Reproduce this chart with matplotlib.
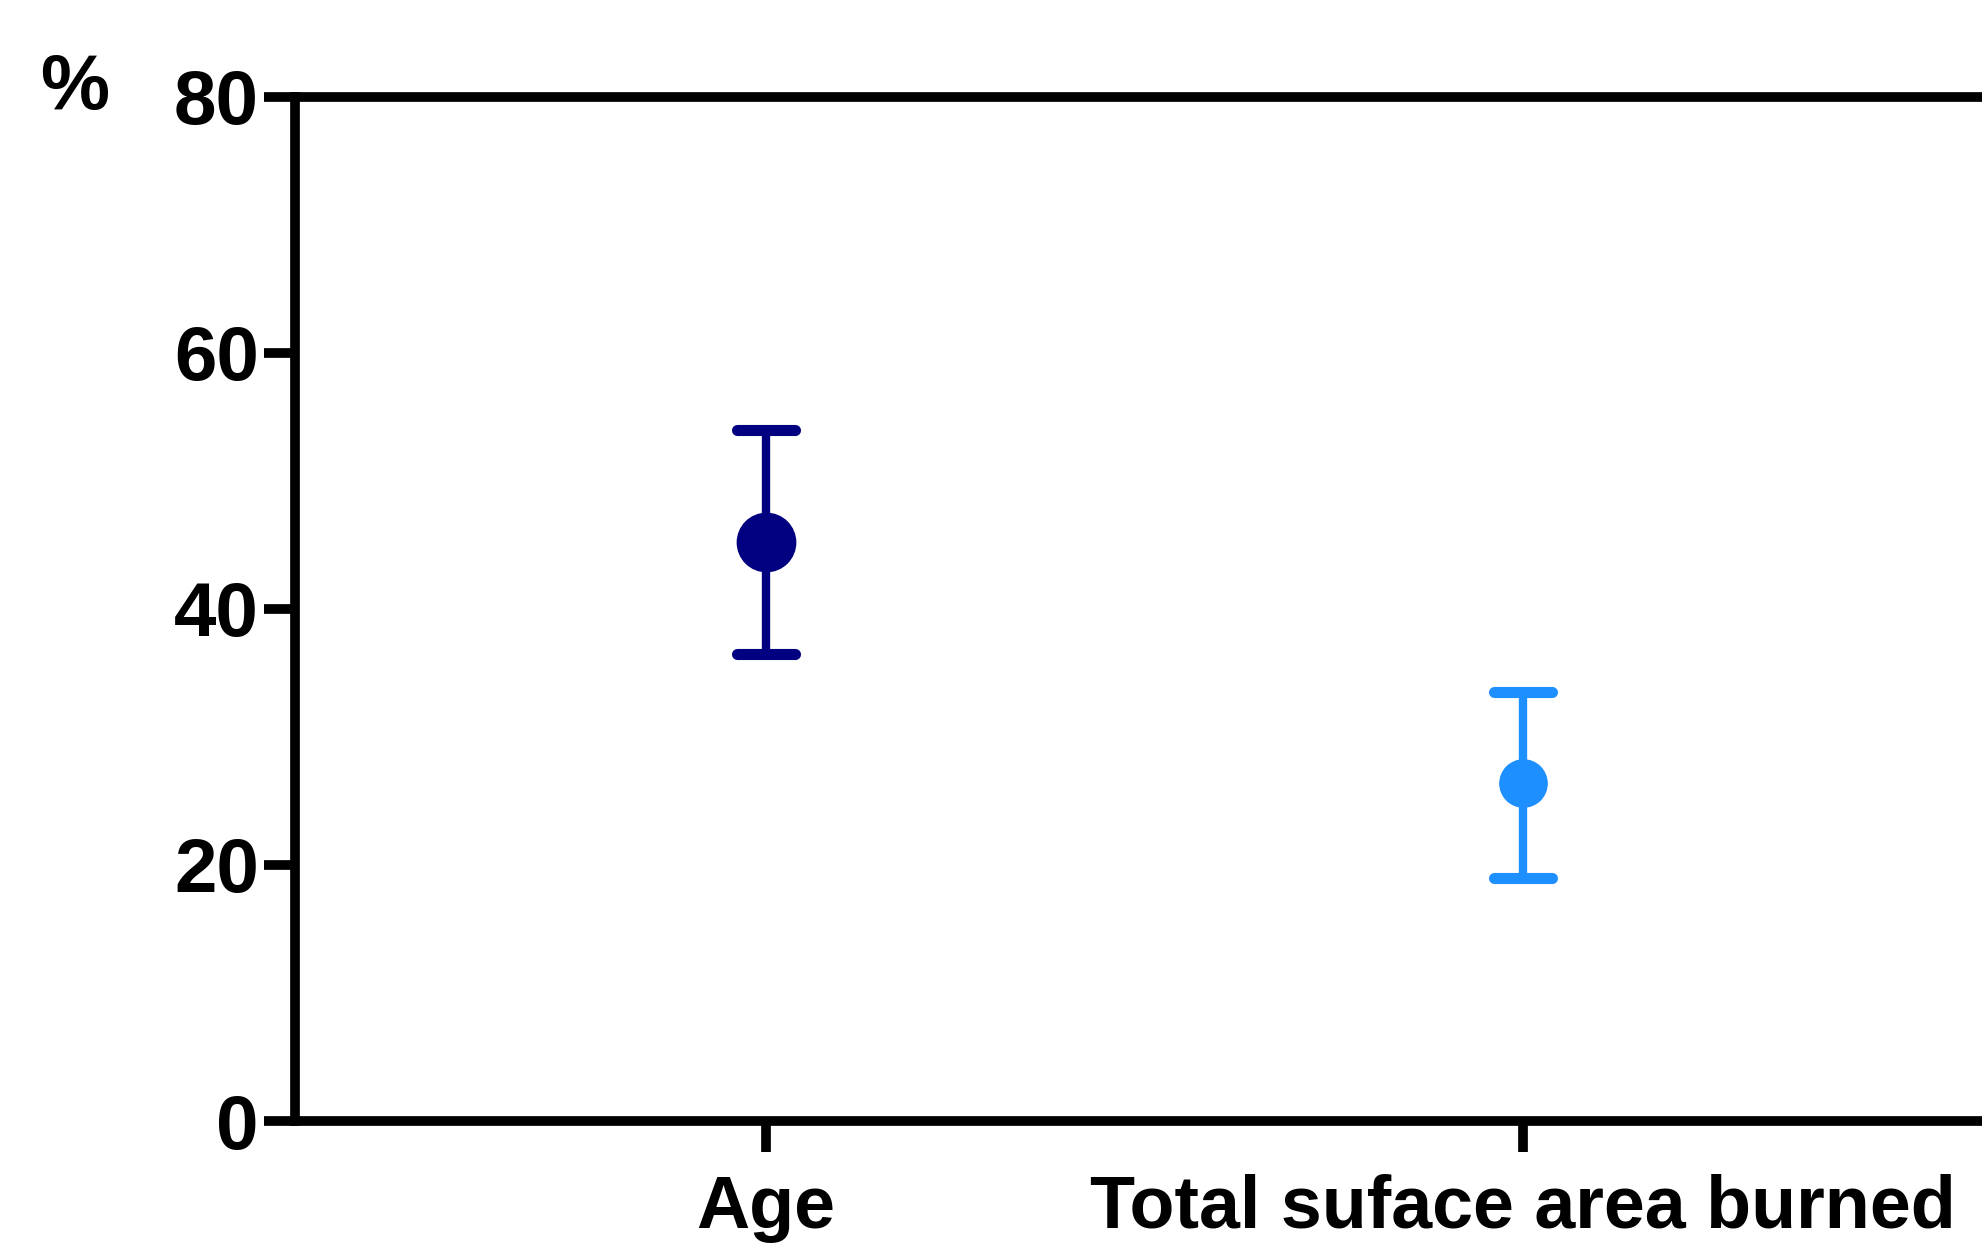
import matplotlib
matplotlib.use("Agg")
import matplotlib.pyplot as plt
from matplotlib.markers import MarkerStyle

categories = ["Age", "Total suface area burned"]
means = [45.2, 26.4]
upper = [54.0, 33.5]
lower = [36.5, 19.0]
colors = ["#000080", "#1E8FFF"]
marker_sizes = [42, 34]
yticks = [0, 20, 40, 60, 80]

W, H = 1982, 1245
fig = plt.figure(figsize=(W / 100, H / 100), dpi=100)

left_px, right_px = 295, 2000
top_px, bottom_px = 96.7, 1121
ax = fig.add_axes([left_px / W, (H - bottom_px) / H,
                   (right_px - left_px) / W, (bottom_px - top_px) / H])

font = dict(family=["Liberation Sans", "DejaVu Sans"], weight="bold")

x = list(range(len(categories)))
for i in x:
    cont = ax.errorbar([i], [means[i]],
                       yerr=[[means[i] - lower[i]], [upper[i] - means[i]]],
                       fmt="o", color=colors[i], ms=marker_sizes[i],
                       elinewidth=6, capsize=21, capthick=8, zorder=3)
    _, caps, bars = cont.lines
    for c in caps:
        c.set_marker(MarkerStyle("_", capstyle="round"))
    for b in bars:
        b.set_capstyle("round")

# x positions: 0 at 766px, 1 at 1523px
px0, px1 = 766, 1523
unit = px1 - px0
ax.set_xlim((left_px - px0) / unit, (right_px - px0) / unit)
ax.set_ylim(0, 80)

ax.set_xticks(x)
ax.set_xticklabels(categories, fontsize=53, **font)
ax.set_yticks(yticks)
ax.set_yticklabels([str(v) for v in yticks], fontsize=55, **font)

for s in ["left", "top", "bottom", "right"]:
    ax.spines[s].set_linewidth(7)
    ax.spines[s].set_color("black")
ax.tick_params(axis="both", length=22, width=7, color="black")
ax.tick_params(axis="y", pad=4)
ax.tick_params(axis="x", pad=16)

fig.text(75 / W, (H - 88) / H, "%", fontsize=56, ha="center", va="center", **font)

fig.savefig("out.png", dpi=100)
